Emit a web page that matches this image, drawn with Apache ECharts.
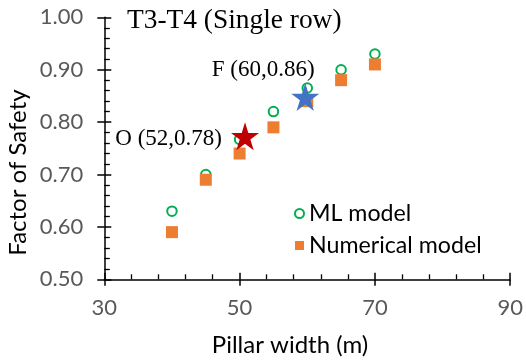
<!DOCTYPE html>
<html>
<head>
<meta charset="utf-8">
<script src="https://cdn.jsdelivr.net/npm/echarts@6/dist/echarts.min.js"></script>
<style>
html,body{margin:0;padding:0;background:#fff;}
#chart{width:526px;height:362px;}
</style>
</head>
<body>
<div id="chart"></div>
<script>
// ---- data ----
const widths = [40, 45, 50, 55, 60, 65, 70];
const mlModel = [0.63, 0.70, 0.767, 0.82, 0.865, 0.90, 0.93];
const numericalModel = [0.59, 0.69, 0.74, 0.79, 0.84, 0.88, 0.91];
const starX = [50.8, 59.7];
const starY = [0.773, 0.848];
const starLabels = ['O (52,0.78)', 'F (60,0.86)'];
const seriesNames = ['ML model', 'Numerical model'];
const chartTitle = 'T3-T4 (Single row)';
const xName = 'Pillar width (m)';
const yName = 'Factor of Safety';

const STAR = 'path://M50 0 L61.23 34.55 L97.55 34.55 L68.17 55.9 L79.39 90.45 L50 69.1 L20.61 90.45 L31.83 55.9 L2.45 34.55 L38.77 34.55 Z';
const SANS = 'Lato';
const SERIF = 'Liberation Serif';

const chart = echarts.init(document.getElementById('chart'), null, {renderer: 'canvas'});

const axisLineStyle = {color: '#000', width: 1.5};

chart.setOption({
  animation: false,
  backgroundColor: '#fff',
  title: {
    text: chartTitle,
    left: 122, top: 2,
    textStyle: {fontFamily: SERIF, fontSize: 27.4, fontWeight: 'normal', color: '#000'}
  },
  legend: {
    data: seriesNames,
    orient: 'vertical',
    left: 289, top: 197,
    itemWidth: 9, itemHeight: 9,
    itemGap: 9,
    textStyle: {fontFamily: SANS, fontSize: 23.2, color: '#000', padding: [0, 0, 0, 0]}
  },
  graphic: [{
    type: 'text', left: 'center', 
    x: 0, y: 0,
    style: {text: xName, x: 290, y: 345, align: 'center', verticalAlign: 'middle',
      font: '24px Lato', fill: '#000'},
    left: null, top: null
  }, {
    type: 'text',
    x: 18, y: 172.5, rotation: Math.PI / 2,
    style: {text: yName, x: 0, y: 0, align: 'center', verticalAlign: 'middle',
      font: '24px Lato', fill: '#000'}
  }],
  grid: {left: 104.3, right: 14.3, top: 17.3, bottom: 82.7, containLabel: false},
  xAxis: [{
    type: 'value', min: 30, max: 90, interval: 20, position: 'bottom',
    axisLine: {show: true, lineStyle: axisLineStyle},
    axisTick: {show: true, inside: true, length: 6.5, lineStyle: {color: '#000', width: 1.5}},
    minorTick: {show: true, splitNumber: 5, length: 5, lineStyle: {color: '#000', width: 1.3}},
    axisLabel: {fontFamily: SANS, fontSize: 22, color: '#595959', margin: 18},
    splitLine: {show: false}
  }, {
    type: 'value', min: 30, max: 90, interval: 20, position: 'bottom', gridIndex: 0,
    axisLine: {show: false},
    axisTick: {show: true, inside: false, length: 6.5, lineStyle: {color: '#000', width: 1.5}},
    axisLabel: {show: false},
    splitLine: {show: false}
  }],
  yAxis: [{
    type: 'value', min: 0.5, max: 1.0, interval: 0.1, position: 'left',
    axisLine: {show: true, lineStyle: axisLineStyle},
    axisTick: {show: true, inside: true, length: 7, lineStyle: {color: '#000', width: 1.5}},
    minorTick: {show: true, splitNumber: 5, length: 5.5, lineStyle: {color: '#000', width: 1.3}},
    axisLabel: {fontFamily: SANS, fontSize: 22, color: '#595959', margin: 21,
      formatter: v => v.toFixed(2)},
    splitLine: {show: false}
  }, {
    type: 'value', min: 0.5, max: 1.0, interval: 0.1, position: 'left', gridIndex: 0,
    axisLine: {show: false},
    axisTick: {show: true, inside: false, length: 7, lineStyle: {color: '#000', width: 1.5}},
    axisLabel: {show: false},
    splitLine: {show: false}
  }],
  series: [{
    name: seriesNames[0],
    type: 'scatter',
    symbol: 'circle', symbolSize: 9.5,
    itemStyle: {color: '#fff', borderColor: '#00B050', borderWidth: 2, opacity: 1},
    data: widths.map((w, i) => [w, mlModel[i]]),
    z: 2
  }, {
    name: seriesNames[1],
    type: 'scatter',
    symbol: 'rect', symbolSize: 12,
    itemStyle: {color: '#ED7D31', opacity: 1},
    data: widths.map((w, i) => [w, numericalModel[i]]),
    z: 3
  }, {
    name: 'Points',
    type: 'scatter',
    symbol: STAR, symbolSize: 28,
    z: 4,
    data: [{
      value: [starX[0], starY[0]],
      itemStyle: {color: '#C00000', opacity: 1},
      label: {show: true, formatter: starLabels[0], position: 'left', distance: 9, offset: [0, 3],
        fontFamily: SERIF, fontSize: 23, color: '#000'}
    }, {
      value: [starX[1], starY[1]],
      itemStyle: {color: '#4472C4', opacity: 1},
      label: {show: true, formatter: starLabels[1], position: 'inside', offset: [-42, -27],
        fontFamily: SERIF, fontSize: 23, color: '#000'}
    }]
  }]
});
</script>
</body>
</html>
